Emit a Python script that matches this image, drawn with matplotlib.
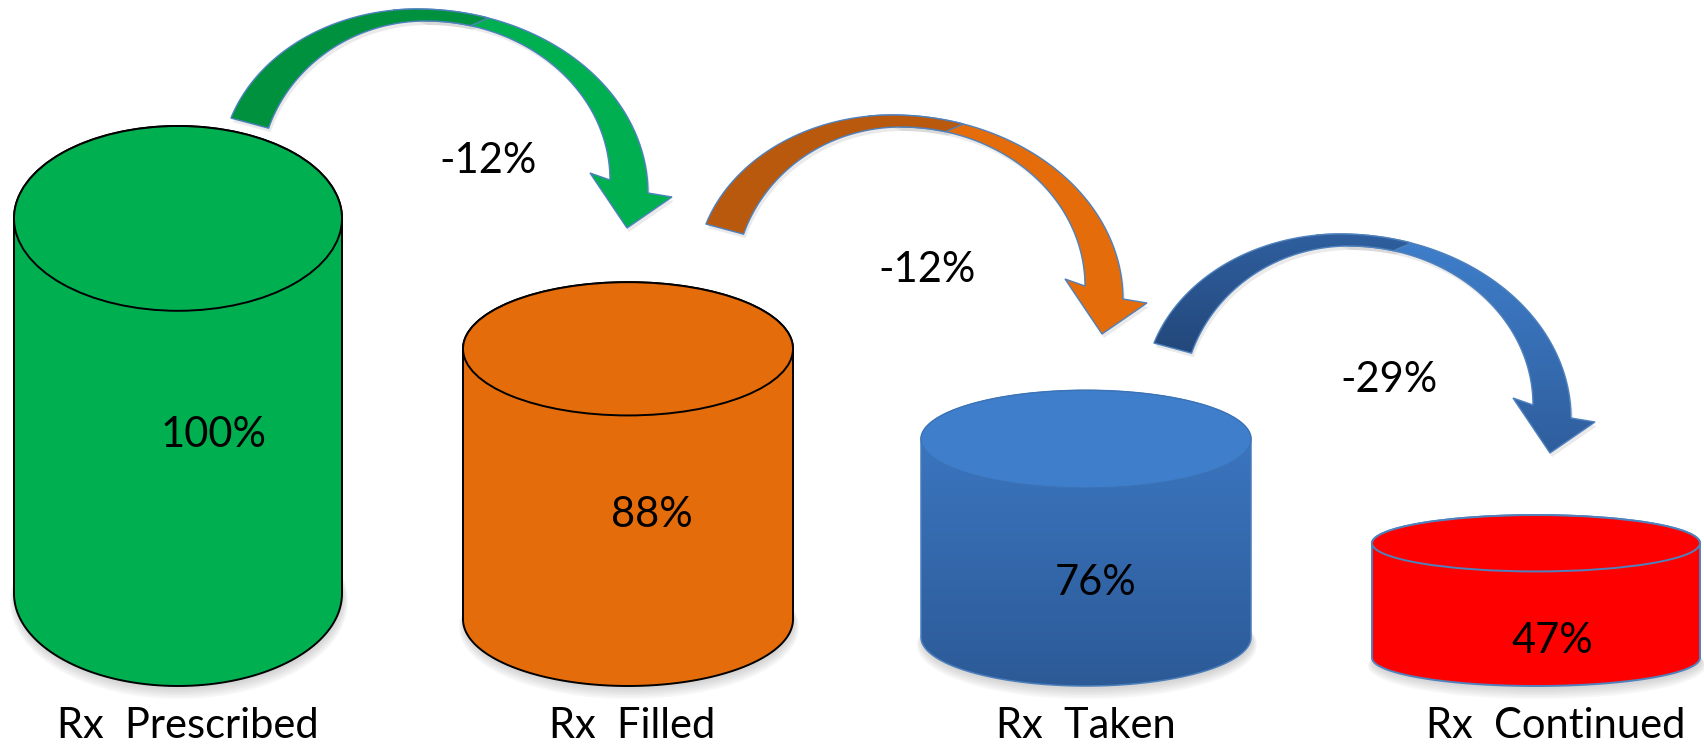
import numpy as np
import matplotlib.pyplot as plt
from matplotlib.patches import Polygon, Ellipse
from matplotlib.colors import LinearSegmentedColormap

plt.rcParams['font.family'] = ['Lato', 'DejaVu Sans']

# funnel stages and share of prescriptions still in the funnel (%)
stages = ["Rx  Prescribed", "Rx  Filled", "Rx  Taken", "Rx  Continued"]
share = [100, 88, 76, 47]

# styles
body_colors = ["#00B050", "#E46C0A", ("#3E7BC7", "#2C5A97"), "#FF0000"]
edge_colors = ["black", "black", "#4A7EBB", "#4F81BD"]
arrow_dark = ["#00913F", "#B8590E", ("#2F5F9F", "#23487B")]
arrow_light = ["#00B050", "#E46C0A", ("#3F7FCC", "#2F5E9D")]
arrow_edge = "#4F81BD"

# layout in pixels (y grows downwards)
W, H = 1704, 745
floor_y = 686
depth_ratio = 0.165
cyl_x = [178, 628, 1086, 1536]
cyl_rx = [164, 165, 165, 164]
value_label_dx = [36, 24, 10, 16]
value_label_y = [447, 527, 595, 653]
arrow_tail = [(231, 118), (706, 224), (1154, 343)]
change_label_xy = [(488, 173), (927, 282), (1389, 392)]
stage_label_x = [188, 632, 1086, 1556]
stage_label_y = 738
font_pt = 30

fig = plt.figure(figsize=(W / 100, H / 100), dpi=100)
ax = fig.add_axes([0, 0, 1, 1])
ax.set_xlim(0, W)
ax.set_ylim(H, 0)
ax.axis('off')

# value axis: share -> height of the cylinder tops (steep power scale)
zero_px, full_px = 540.4, 126
vax = fig.add_axes([0, (H - zero_px) / H, 1, (zero_px - full_px) / H])
vax.set_yscale('function', functions=(lambda v: np.power(np.clip(v, 0, None), 3.7),
                                      lambda y: np.power(np.clip(y, 0, None), 1 / 3.7)))
vax.set_ylim(0, 100)
vax.axis('off')


def value_to_px(v):
    disp = vax.transData.transform((0.5, v))
    return ax.transData.inverted().transform(disp)[1]


def gradient_fill(pts, c_top, c_bot, z):
    patch = Polygon(pts, closed=True, fc='none', ec='none', zorder=z)
    ax.add_patch(patch)
    cmap = LinearSegmentedColormap.from_list('g', [c_top, c_bot])
    x0, y0 = pts.min(axis=0)
    x1, y1 = pts.max(axis=0)
    grad = np.linspace(0, 1, 256).reshape(-1, 1)
    im = ax.imshow(grad, cmap=cmap, extent=(x0, x1, y1, y0), origin='upper',
                   aspect='auto', zorder=z, interpolation='bilinear')
    im.set_clip_path(patch)


def draw_cylinder(cx, rx, top, fill, edge):
    h = floor_y - top
    ry = depth_ratio * h
    yt = top + ry
    yb = floor_y - ry
    t = np.linspace(0, np.pi, 90)
    upper = np.column_stack([cx - rx * np.cos(t), yt - ry * np.sin(t)])
    lower = np.column_stack([cx + rx * np.cos(t), yb + ry * np.sin(t)])
    sil = np.vstack([upper, lower])

    # soft shadow under the base
    for k in range(6):
        ax.add_patch(Ellipse((cx + 1, yb + 3 + k), 2 * rx + 2 * k, 2 * ry + 2 * k,
                             fc='#808080', ec='none', alpha=0.06, zorder=1))

    if isinstance(fill, tuple):
        gradient_fill(sil, fill[0], fill[1], 2)
        ax.add_patch(Polygon(sil, closed=True, fc='none', ec=edge, lw=1.1, zorder=3))
        ax.add_patch(Ellipse((cx, yt), 2 * rx, 2 * ry, fc='#3F7ECB', ec='#3A72B5',
                             lw=0.8, zorder=4))
    else:
        ax.add_patch(Polygon(sil, closed=True, fc=fill, ec=edge, lw=1.4, zorder=2))
        ax.add_patch(Ellipse((cx, yt), 2 * rx, 2 * ry, fc=fill, ec=edge, lw=1.4, zorder=3))


def arc(cx, cy, a, b, t0, t1, n=60):
    t = np.radians(np.linspace(t0, t1, n))
    return np.column_stack([cx + a * np.cos(t), cy - b * np.sin(t)])


# curved arrow outline, local coords with the outer tail corner at the origin
outer_l = (186, 50, 196, 159)
outer_r = (186, 75, 231, 184)
inner_r = (195, 62, 184, 159)
inner_l = (195, 60, 166, 157)
head = np.array([(441, 79), (396, 110), (359, 55)])

dark_shape = np.vstack([arc(*outer_l, 161.7, 90), arc(*outer_r, 90, 72),
                        arc(*inner_r, 76, 90), arc(*inner_l, 90, 161.5)])
light_shape = np.vstack([arc(*outer_l, 97, 90), arc(*outer_r, 90, 0), head,
                         arc(*inner_r, 0, 90)])


def draw_arrow(tx, ty, dark, light):
    off = np.array([tx, ty])
    d = dark_shape + off
    li = light_shape + off
    for pts in (li, d):
        ax.add_patch(Polygon(pts + (2, 4), closed=True, fc='#909090', ec='none',
                             alpha=0.18, zorder=5))
    for pts, col, z in ((li, light, 6), (d, dark, 7)):
        if isinstance(col, tuple):
            gradient_fill(pts, col[0], col[1], z)
            ax.add_patch(Polygon(pts, closed=True, fc='none', ec=arrow_edge, lw=1.0, zorder=z))
        else:
            ax.add_patch(Polygon(pts, closed=True, fc=col, ec=arrow_edge, lw=1.0, zorder=z))


tops = [value_to_px(v) for v in share]

for i, v in enumerate(share):
    draw_cylinder(cyl_x[i], cyl_rx[i], tops[i], body_colors[i], edge_colors[i])
    ax.text(cyl_x[i] + value_label_dx[i], value_label_y[i], f"{v}%", ha='center',
            va='baseline', fontsize=font_pt, color='black', zorder=10)
    ax.text(stage_label_x[i], stage_label_y, stages[i], ha='center', va='baseline',
            fontsize=font_pt, color='black', zorder=10)

for i in range(len(share) - 1):
    draw_arrow(*arrow_tail[i], arrow_dark[i], arrow_light[i])
    drop = share[i + 1] - share[i]
    ax.text(*change_label_xy[i], f"{drop}%", ha='center', va='baseline',
            fontsize=font_pt, color='black', zorder=10)

ax.set_xlim(0, W)
ax.set_ylim(H, 0)
fig.savefig('out.png', dpi=100, facecolor='white')
